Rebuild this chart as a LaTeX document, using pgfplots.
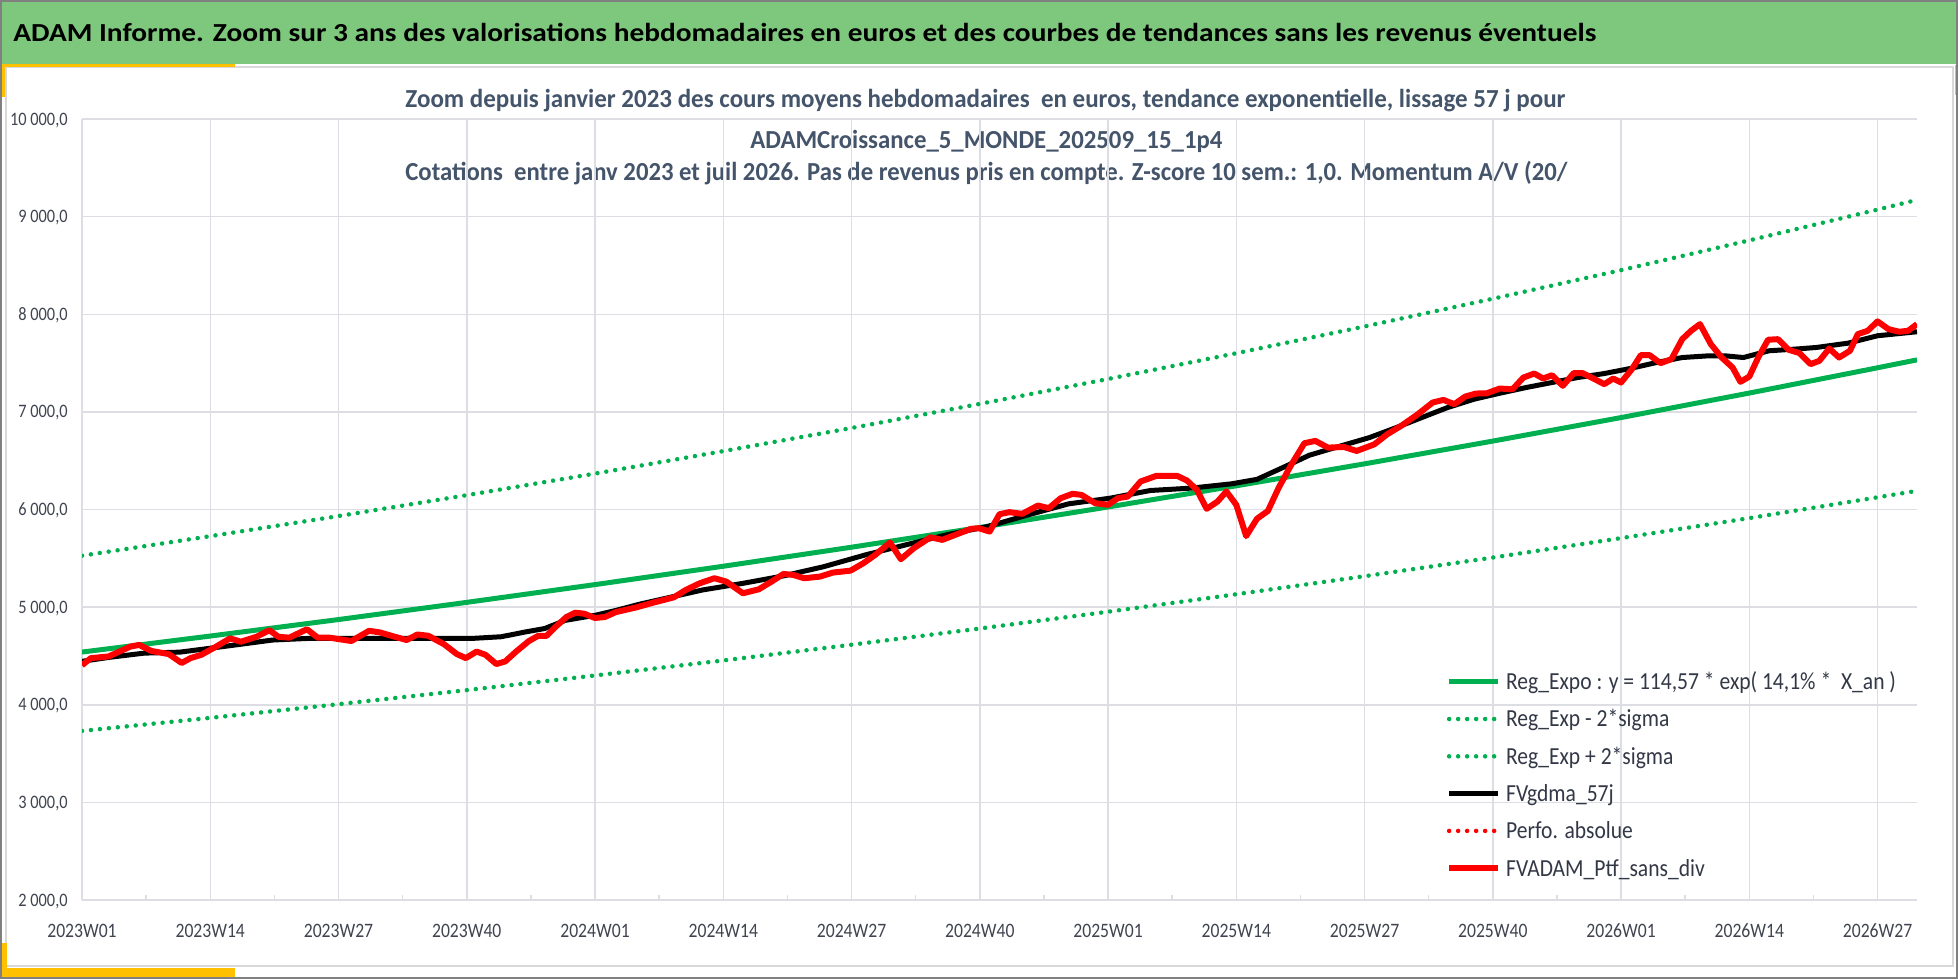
\documentclass[border=0pt]{standalone}
\usepackage{graphicx}
\usepackage{pgfplots}
\pgfplotsset{compat=1.18}
\usepackage{fontspec}
\setmainfont{Carlito}
\newfontfamily\tickfont{Carlito}[FakeStretch=0.86]
\newfontfamily\legfont{Carlito}[FakeStretch=0.88]
\newdimen\pxu \pxu=0.5bp
\definecolor{band}{RGB}{125,200,125}
\definecolor{ygold}{RGB}{255,192,0}
\definecolor{gridc}{RGB}{220,222,228}
\definecolor{subc}{RGB}{68,84,106}
\definecolor{tickc}{RGB}{64,68,80}
\definecolor{legc}{RGB}{50,56,70}
\definecolor{xlgreen}{RGB}{0,176,80}
\definecolor{framec}{RGB}{128,128,128}
\definecolor{innerframe}{RGB}{217,217,217}
\newcommand\xtf{\tickfont\fontsize{10.25bp}{12bp}\selectfont}
\newcommand\ytf{\tickfont\fontsize{9.5bp}{11bp}\selectfont}
\newcommand\lgf{\legfont\fontsize{12.25bp}{14bp}\selectfont}
\begin{document}
\begin{tikzpicture}
\begin{scope}[x=\pxu,y=\pxu]
\useasboundingbox (0,0) rectangle (1958,-979);
\fill[white] (0,0) rectangle (1958,-979);
\fill[band] (0,0) rectangle (1958,-64);
\draw[innerframe, line width=1.5\pxu] (6,-67) rectangle (1953,-966);
\fill[ygold] (0,-64) rectangle (235,-67);
\fill[ygold] (0,-64) rectangle (5,-97);
\fill[ygold] (0,-943) rectangle (7,-977);
\fill[ygold] (0,-968) rectangle (235,-977);
\fill[ygold] (1955,-65) rectangle (1958,-95);
\draw[framec, line width=2\pxu] (1,-1) rectangle (1957,-978);
\node[anchor=base west, inner sep=0pt, text=black] at (13,-41.7)
  {\resizebox{1583\pxu}{\height}{\fontsize{13bp}{15bp}\selectfont\bfseries ADAM Informe. Zoom sur 3 ans des valorisations hebdomadaires en euros et des courbes de tendances sans les revenus éventuels}};
\node[anchor=base west, inner sep=0pt, text=subc] at (405,-107.5)
  {\resizebox{1160\pxu}{\height}{\fontsize{13bp}{15bp}\selectfont\bfseries Zoom depuis janvier 2023 des cours moyens hebdomadaires\ \ en euros, tendance exponentielle, lissage 57 j pour}};
\node[anchor=base west, inner sep=0pt, text=subc] at (750,-148)
  {\resizebox{472\pxu}{\height}{\fontsize{13bp}{15bp}\selectfont\bfseries ADAMCroissance\_5\_MONDE\_202509\_15\_1p4}};
\node[anchor=base west, inner sep=0pt, text=subc] at (405,-180.5)
  {\resizebox{1162\pxu}{\height}{\fontsize{13bp}{15bp}\selectfont\bfseries Cotations\ \ entre janv 2023 et juil 2026. Pas de revenus pris en compte. Z-score 10 sem.: 1,0. Momentum A/V (20/}};
\end{scope}
\begin{axis}[
  at={(82\pxu,-900\pxu)}, anchor=south west,
  width=1835\pxu, height=781\pxu, scale only axis,
  xmin=0, xmax=186, ymin=2000, ymax=10000,
  scaled y ticks=false, scaled x ticks=false,
  xtick={0,13,...,182},
  xticklabels={2023W01,2023W14,2023W27,2023W40,2024W01,2024W14,2024W27,2024W40,2025W01,2025W14,2025W27,2025W40,2026W01,2026W14,2026W27},
  ytick={2000,3000,...,10000},
  yticklabels={{2 000,0},{3 000,0},{4 000,0},{5 000,0},{6 000,0},{7 000,0},{8 000,0},{9 000,0},{10 000,0}},
  minor xtick={6.5,19.5,...,175.5},
  grid=major, major grid style={gridc, line width=1.5\pxu},
  axis line style={draw=none},
  major tick length=0pt, minor tick length=5\pxu,
  minor tick style={gridc, line width=1.5\pxu},
  xtick pos=left, ytick pos=left, tick align=inside,
  xticklabel style={font=\xtf, text=tickc, anchor=base, inner sep=0pt, yshift=-37\pxu},
  yticklabel style={font=\ytf, text=tickc, anchor=base east, inner sep=0pt, xshift=-14\pxu, yshift=-6\pxu},
  legend cell align=left,
  legend style={draw=none, fill=none, at={(axis description cs:0.7434,0.3034)}, anchor=north west,
    inner sep=0pt, outer sep=0pt, row sep=0pt, column sep=5\pxu,
    font=\lgf, text=legc,
    nodes={inner sep=0pt, text height=26.55\pxu, text depth=10.75\pxu}},
  legend image code/.code={\draw[#1] (0pt,0pt) -- (49\pxu,0pt);},
]
\addplot[xlgreen, line width=5\pxu] coordinates {
(0,4540) (13,4704) (26,4873) (39,5049) (52,5231) (65,5419) (78,5614) (91,5816) (104,6026) (117,6243) (130,6468) (143,6701) (156,6942) (169,7193) (182,7452) (186,7533)};
\addlegendentry{Reg\_Expo : y = 114,57 * exp( 14,1\% *\ \ X\_an )}
\addplot[xlgreen, line width=4.5\pxu, line cap=round, dash pattern=on 0pt off 9\pxu] coordinates {
(0,3732) (13,3866) (26,4006) (39,4150) (52,4300) (65,4454) (78,4615) (91,4781) (104,4953) (117,5132) (130,5317) (143,5508) (156,5707) (169,5912) (182,6125) (186,6192)};
\addlegendentry{Reg\_Exp - 2*sigma}
\addplot[xlgreen, line width=4.5\pxu, line cap=round, dash pattern=on 0pt off 9\pxu] coordinates {
(0,5527) (13,5727) (26,5933) (39,6147) (52,6368) (65,6598) (78,6835) (91,7082) (104,7337) (117,7601) (130,7875) (143,8159) (156,8452) (169,8757) (182,9072) (186,9172)};
\addlegendentry{Reg\_Exp + 2*sigma}
\addplot[black, line width=5\pxu, line join=round] coordinates {
(0,4445) (2.7,4485) (6.3,4529) (9.9,4539) (13,4579) (16.1,4620) (19.3,4663) (23,4680) (27.3,4680) (32.4,4680) (36,4680) (39.6,4680) (42.5,4697) (45,4747) (46.9,4781) (49,4865) (52,4916) (54.1,4966) (56.5,5030) (58.7,5080) (62.9,5176) (67,5244) (71.1,5320) (75.2,5415) (79.4,5535) (83.5,5638) (87.6,5740) (91.8,5826) (95.9,5945) (100,6058) (104.2,6116) (108.3,6195) (112.4,6219) (116.5,6263) (119.1,6309) (121.7,6429) (124.4,6556) (127,6634) (130.5,6737) (133.2,6839) (135.8,6942) (138.4,7044) (141.1,7130) (143.7,7191) (146.4,7250) (149,7301) (151.6,7352) (154.3,7393) (156.9,7444) (159.6,7506) (162.2,7557) (164.8,7574) (166.6,7574) (168.4,7557) (171,7626) (173.6,7643) (175.8,7660) (179,7704) (182,7780) (186,7821)};
\addlegendentry{FVgdma\_57j}
\addlegendimage{red, line width=4.5\pxu, line cap=round, dash pattern=on 0pt off 9\pxu}
\addlegendentry{Perfo. absolue}
\addplot[red, line width=6\pxu, line join=round] coordinates {
(0,4405) (0.9,4478) (2.7,4495) (4.9,4596) (5.8,4613) (7.0,4552) (8.8,4519) (10.1,4428) (11.0,4478) (12.1,4512) (13.6,4596) (15.0,4680) (16.1,4646) (17.7,4697) (19.0,4764) (19.9,4697) (21.0,4687) (22.8,4774) (23.9,4687) (25.1,4687) (27.3,4653) (29.1,4758) (30.2,4741) (31.7,4697) (32.9,4663) (34.0,4720) (35.1,4707) (36.7,4620) (38.0,4519) (38.9,4478) (40.0,4545) (40.9,4512) (42.0,4417) (42.9,4444) (44.0,4545) (45.3,4653) (46.2,4704) (47.1,4707) (48.0,4798) (49.1,4899) (50.0,4943) (50.9,4933) (52.0,4889) (53.0,4899) (54.1,4949)
(56.2,4998) (57.9,5046) (60,5101) (61.2,5176) (62.6,5244) (64.1,5296) (65.3,5262) (67,5142) (68.6,5183) (69.9,5262) (71.1,5340) (72.1,5330) (73.2,5296) (74.8,5313) (76.1,5354) (77.9,5374) (79.2,5450) (80.4,5535) (81.9,5662) (83,5491) (84.3,5603) (86,5716) (87.2,5689) (88.5,5740) (90.1,5802) (90.9,5809) (92,5774) (93,5952) (94,5973) (95.3,5956) (96.9,6041) (98,6014) (99.2,6116) (100.4,6161) (101.3,6150) (102.7,6065) (104,6048) (105,6116) (106,6133) (107.3,6287) (108.9,6345) (111,6345) (112,6297) (113,6202) (114,6007) (115.1,6082) (116,6185) (117,6048)
(118,5728) (119.1,5906) (120.2,5985) (121.3,6224) (122.6,6463) (123.9,6679) (125,6703) (126.3,6634) (127.9,6641) (129.2,6600) (131,6668) (132.3,6771) (133.8,6863) (135.4,6976) (136.9,7096) (138,7123) (139.1,7079) (140.2,7157) (141.3,7188) (142.4,7191) (143.7,7239) (145,7232) (146.1,7352) (147.2,7393) (148.1,7342) (149,7376) (150.1,7267) (151.2,7397) (152.1,7397) (153.2,7342) (154.3,7284) (155.2,7342) (156,7301) (157.1,7438) (158,7581) (158.9,7581) (160,7499) (161.1,7540) (162.2,7745) (163.1,7831) (164,7899) (165.1,7694) (166.2,7557) (167.3,7455) (168.1,7308) (169,7362) (169.9,7557) (170.9,7739) (171.9,7745) (173,7636) (174.1,7602) (175.2,7489) (176.1,7523) (177.1,7650) (178.1,7557) (179.2,7626) (180,7797) (181,7831) (182,7927) (183.1,7848) (184.2,7821) (185.1,7831) (186,7899)};
\addlegendentry{FVADAM\_Ptf\_sans\_div}
\end{axis}
\end{tikzpicture}
\end{document}
